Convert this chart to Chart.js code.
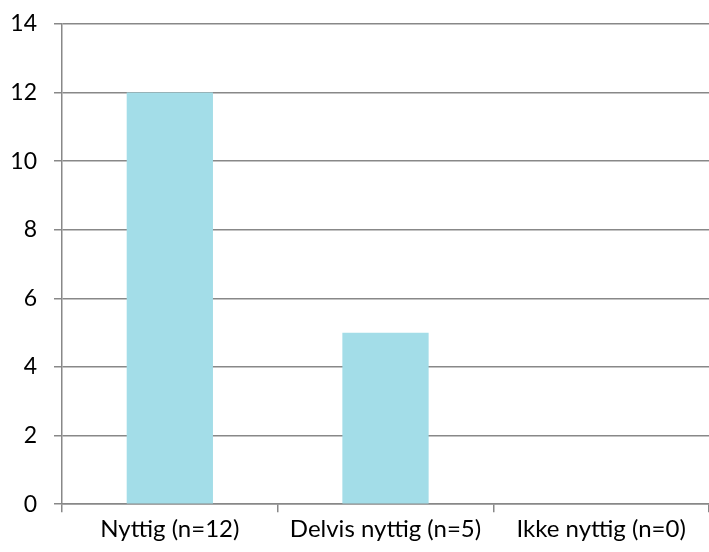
<!DOCTYPE html>
<html>
<head>
<meta charset="utf-8">
<script src="https://cdn.jsdelivr.net/npm/chart.js@4"></script>
<style>
  html, body { margin: 0; padding: 0; background: #fff; }
  #wrap { width: 709px; height: 552px; }
</style>
</head>
<body>
<div id="wrap"><canvas id="usefulChart" width="709" height="552"></canvas></div>
<script>
// Categories and counts
const categories = ['Nyttig (n=12)', 'Delvis nyttig (n=5)', 'Ikke nyttig (n=0)'];
const counts = [12, 5, 0];
const yTicks = [0, 2, 4, 6, 8, 10, 12, 14];

const gridColor = '#888888';
const fontFamily = 'Lato, "Open Sans", sans-serif';

const ctx = document.getElementById('usefulChart').getContext('2d');
new Chart(ctx, {
    type: 'bar',
    data: {
        labels: categories,
        datasets: [{
            data: counts,
            backgroundColor: '#a3dde8',
            borderWidth: 0,
            barPercentage: 1,
            categoryPercentage: 0.4
        }]
    },
    options: {
        responsive: false,
        animation: false,
        layout: { padding: { top: 24, right: 0, left: 0, bottom: 5 } },
        plugins: {
            legend: { display: false },
            tooltip: { enabled: false }
        },
        scales: {
            x: {
                grid: {
                    display: true,
                    drawOnChartArea: false,
                    color: gridColor,
                    lineWidth: 1.5,
                    tickLength: 8
                },
                border: { color: gridColor, width: 1.5 },
                ticks: {
                    color: '#000',
                    font: { family: fontFamily, size: 24 },
                    padding: 3,
                    maxRotation: 0
                }
            },
            y: {
                min: yTicks[0],
                max: yTicks[yTicks.length - 1],
                afterBuildTicks: function(axis) {
                    axis.ticks = yTicks.map(v => ({ value: v }));
                },
                afterFit: function(axis) {
                    axis.width = 62;
                    axis.paddingTop = 0;
                    axis.paddingBottom = 0;
                },
                grid: {
                    color: gridColor,
                    lineWidth: 1.5,
                    tickLength: 8
                },
                border: { color: gridColor, width: 1.5 },
                ticks: {
                    color: '#000',
                    font: { family: fontFamily, size: 23 },
                    padding: 17
                }
            }
        }
    }
});
</script>
</body>
</html>
